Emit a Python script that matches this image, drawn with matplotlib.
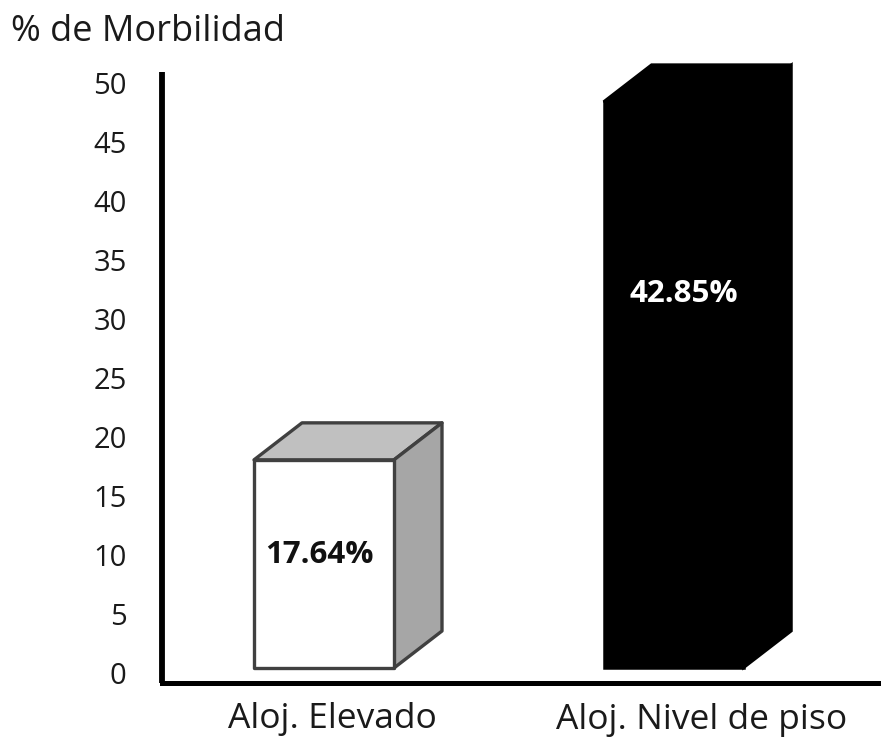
import matplotlib
matplotlib.use("Agg")
import matplotlib.pyplot as plt
from matplotlib.patches import Polygon
from matplotlib.transforms import ScaledTranslation

categories = ["Aloj. Elevado", "Aloj. Nivel de piso"]
drawn_heights = [17.64, 48.0]
value_labels = ["17.64%", "42.85%"]
y_ticks = [0, 5, 10, 15, 20, 25, 30, 35, 40, 45, 50]

W, H = 881, 742
plt.rcParams['font.family'] = ['Open Sans', 'DejaVu Sans']
fig = plt.figure(figsize=(W/100, H/100), dpi=100)

# axes box in pixels
left, right, top, bottom = 162, 881, 72, 683
ax = fig.add_axes([left/W, 1-bottom/H, (right-left)/W, (bottom-top)/H])
scale = 11.8
ax.set_ylim(-(bottom-668)/scale, (668-top)/scale)
spacing = 349.5
x0 = 324
ax.set_xlim((left-x0)/spacing, (right-x0)/spacing)

bar_w = 140/spacing
dx = 48/spacing
dy = 37/scale
edge = "#404040"
lw = 2.4

# white bar
x, h = 0, drawn_heights[0]
l, r = x-bar_w/2, x+bar_w/2
ax.add_patch(Polygon([(l, h), (l+dx, h+dy), (r+dx, h+dy), (r, h)], fc="#c0c0c0", ec=edge, lw=lw, joinstyle="round"))
ax.add_patch(Polygon([(r, 0), (r+dx, dy), (r+dx, h+dy), (r, h)], fc="#a6a6a6", ec=edge, lw=lw, joinstyle="round"))
ax.bar(x, h, width=bar_w, color="white", edgecolor=edge, linewidth=lw, joinstyle="round")

# black bar
x, h = 1, drawn_heights[1]
l, r = x-bar_w/2, x+bar_w/2
ax.add_patch(Polygon([(l, h), (l+dx, h+dy), (r+dx, h+dy), (r, h)], fc="black", ec="black", lw=1.8, clip_on=False))
ax.add_patch(Polygon([(r, 0), (r+dx, dy), (r+dx, h+dy), (r, h)], fc="black", ec="black", lw=1.8, clip_on=False))
ax.bar(x, h, width=bar_w, color="black", edgecolor="black", linewidth=1.8)

ax.text(-0.014, 9.6, value_labels[0], ha="center", va="center", fontsize=22.5, fontweight="bold", color="#111111")
ax.text(1.03, 31.7, value_labels[1], ha="center", va="center", fontsize=22.5, fontweight="bold", color="white")

for s in ("top", "right"):
    ax.spines[s].set_visible(False)
ax.spines["left"].set_linewidth(4.2)
ax.spines["bottom"].set_linewidth(3.6)
for s in ("left", "bottom"):
    ax.spines[s].set_color("black")
ax.spines["left"].set_capstyle("butt")

ax.set_yticks(y_ticks)
ax.tick_params(axis="y", length=0, pad=25.5, labelsize=21, labelcolor="#1a1a1a")
off = ScaledTranslation(0, -5/100, fig.dpi_scale_trans)
for t in ax.yaxis.get_major_ticks():
    t.label1.set_transform(t.label1.get_transform() + off)

ax.set_xticks([0.023, 1.08])
ax.set_xticklabels(categories, fontsize=25.5, color="#1a1a1a")
ax.tick_params(axis="x", length=0, pad=14)
off2 = ScaledTranslation(0, -1/100, fig.dpi_scale_trans)
xt = ax.xaxis.get_major_ticks()[1]
xt.label1.set_transform(xt.label1.get_transform() + off2)

fig.text(11/W, 1-32/H, "% de Morbilidad", fontsize=26, ha="left", va="center", color="#1a1a1a")
fig.savefig("out.png", dpi=100)
